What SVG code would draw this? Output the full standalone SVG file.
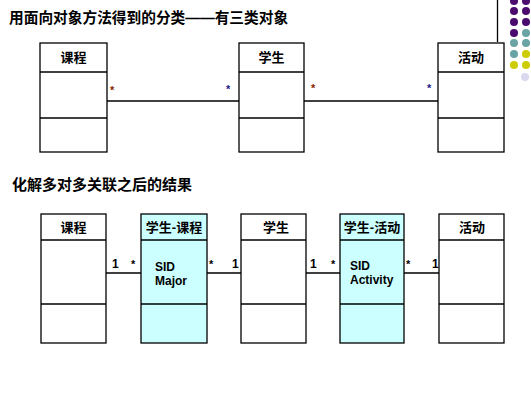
<svg xmlns="http://www.w3.org/2000/svg" width="531" height="400" viewBox="0 0 531 400">
<style>
.t{font-family:"Liberation Sans","Noto Sans CJK SC",sans-serif;font-weight:bold;fill:#000}
.title{font-size:14.7px}
.title2{font-size:15px}
.hd{font-size:13px;text-anchor:middle}
.box{fill:#fff;stroke:#000;stroke-width:1.3}
.cy{fill:#ccffff}
.ln{stroke:#000;stroke-width:1.3;fill:none}
.m{font-family:"Liberation Sans",sans-serif;font-weight:bold;font-size:11px}
.n{font-size:12px}
.at{font-family:"Liberation Sans",sans-serif;font-weight:bold;font-size:12px;fill:#000}
</style>
<rect width="531" height="400" fill="#fff"/>
<g id="decor">
<line x1="497.5" y1="0" x2="497.5" y2="42" class="ln"/>
<g fill="#4b0a6e">
<circle cx="514" cy="1" r="4"/><circle cx="526" cy="1" r="4"/>
<circle cx="514" cy="11" r="4"/><circle cx="526" cy="11" r="4"/>
<circle cx="514" cy="22" r="4"/><circle cx="526" cy="22" r="4"/>
<circle cx="514" cy="33" r="4"/>
</g>
<g fill="#6aa3a3">
<circle cx="526" cy="33" r="4"/>
<circle cx="514" cy="43" r="4"/><circle cx="526" cy="43" r="4"/>
<circle cx="514" cy="54" r="4"/>
</g>
<g fill="#cccc00">
<circle cx="526" cy="54" r="4"/>
<circle cx="514" cy="65" r="4"/><circle cx="526" cy="65" r="4"/>
</g>
<circle cx="525" cy="77" r="4" fill="#d8d8ee"/>
</g>
<text class="t title" x="9" y="23">用面向对象方法得到的分类——有三类对象</text>
<text class="t title2" x="12" y="190">化解多对多关联之后的结果</text>
<g id="connectors">
<line x1="107" y1="101" x2="239" y2="101" class="ln"/>
<line x1="304" y1="101" x2="438" y2="101" class="ln"/>
<line x1="106" y1="273" x2="141" y2="273" class="ln"/>
<line x1="207" y1="273" x2="241" y2="273" class="ln"/>
<line x1="306" y1="273" x2="340" y2="273" class="ln"/>
<line x1="404" y1="273" x2="439" y2="273" class="ln"/>
<text class="m" x="110" y="94" fill="#8b2500">*</text>
<text class="m" x="226" y="93" fill="#1a1a8b">*</text>
<text class="m" x="311" y="92" fill="#8b2500">*</text>
<text class="m" x="427" y="92" fill="#1a1a8b">*</text>
<text class="m n" x="112" y="268" fill="#000">1</text>
<text class="m" x="131" y="268" fill="#000">*</text>
<text class="m" x="209" y="268" fill="#000">*</text>
<text class="m n" x="232" y="268" fill="#000">1</text>
<text class="m n" x="310" y="268" fill="#000">1</text>
<text class="m" x="331" y="268" fill="#000">*</text>
<text class="m" x="406" y="268" fill="#000">*</text>
<text class="m n" x="432" y="268" fill="#000">1</text>
</g>
<g id="course1">
<rect class="box" x="40" y="43" width="67" height="109"/>
<line class="ln" x1="40" y1="72" x2="107" y2="72"/>
<line class="ln" x1="40" y1="118" x2="107" y2="118"/>
<text class="t hd" x="73.5" y="62">课程</text>
</g>
<g id="student1">
<rect class="box" x="239" y="43" width="65" height="109"/>
<line class="ln" x1="239" y1="72" x2="304" y2="72"/>
<line class="ln" x1="239" y1="118" x2="304" y2="118"/>
<text class="t hd" x="271.5" y="62">学生</text>
</g>
<g id="activity1">
<rect class="box" x="438" y="43" width="66" height="109"/>
<line class="ln" x1="438" y1="72" x2="504" y2="72"/>
<line class="ln" x1="438" y1="118" x2="504" y2="118"/>
<text class="t hd" x="471" y="62">活动</text>
</g>
<g id="course2">
<rect class="box" x="41" y="214" width="65" height="129"/>
<line class="ln" x1="41" y1="240" x2="106" y2="240"/>
<line class="ln" x1="41" y1="304" x2="106" y2="304"/>
<text class="t hd" x="73.5" y="232">课程</text>
</g>
<g id="student_course">
<rect class="box cy" x="141" y="214" width="66" height="129"/>
<line class="ln" x1="141" y1="240" x2="207" y2="240"/>
<line class="ln" x1="141" y1="304" x2="207" y2="304"/>
<text class="t hd" x="174" y="232">学生-课程</text>
<text class="at" x="155" y="271">SID</text>
<text class="at" x="155" y="285">Major</text>
</g>
<g id="student2">
<rect class="box" x="241" y="214" width="65" height="129"/>
<line class="ln" x1="241" y1="240" x2="306" y2="240"/>
<line class="ln" x1="241" y1="304" x2="306" y2="304"/>
<text class="t hd" x="276" y="232">学生</text>
</g>
<g id="student_activity">
<rect class="box cy" x="340" y="214" width="64" height="129"/>
<line class="ln" x1="340" y1="240" x2="404" y2="240"/>
<line class="ln" x1="340" y1="304" x2="404" y2="304"/>
<text class="t hd" x="372" y="232">学生-活动</text>
<text class="at" x="350" y="270">SID</text>
<text class="at" x="350" y="284">Activity</text>
</g>
<g id="activity2">
<rect class="box" x="439" y="214" width="65" height="129"/>
<line class="ln" x1="439" y1="240" x2="504" y2="240"/>
<line class="ln" x1="439" y1="304" x2="504" y2="304"/>
<text class="t hd" x="472" y="232">活动</text>
</g>
</svg>
